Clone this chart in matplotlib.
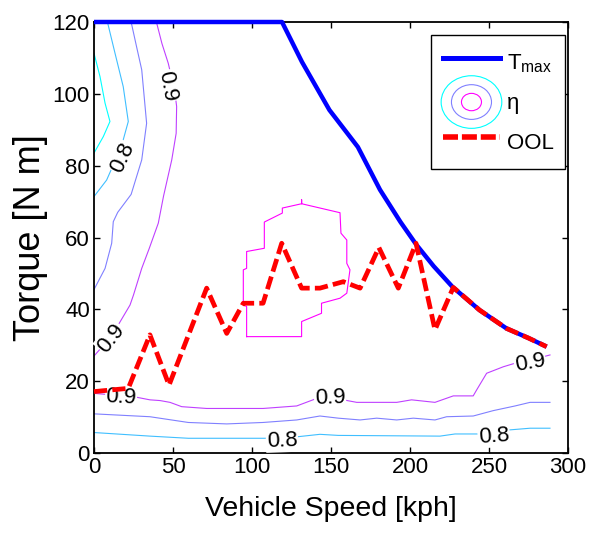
import numpy as np
import matplotlib
matplotlib.use("Agg")
import matplotlib.pyplot as plt
from matplotlib.legend_handler import HandlerBase
from matplotlib.patches import Ellipse
from matplotlib.lines import Line2D

plt.rcParams['font.family'] = ['Liberation Sans', 'DejaVu Sans']
plt.rcParams['mathtext.fontset'] = 'custom'
plt.rcParams['mathtext.rm'] = 'Liberation Sans'
plt.rcParams['mathtext.it'] = 'Liberation Sans'

# --- donnees ---
# couple max
tmax_v = [0, 119, 131.6, 149, 167, 181, 194, 204, 215, 227, 244, 261, 275, 286.5]
tmax_t = [120, 120, 108.9, 95.5, 85.2, 73.3, 64.3, 58, 52, 46.2, 39.8, 34.7, 32, 29.6]

# ligne de fonctionnement optimale (OOL)
ool_v = [0, 21.7, 35.4, 47.5, 71.3, 84, 94.5, 107, 118.8, 131.4, 143, 157.8, 168.4,
         180.3, 192.6, 203.8, 215.8, 227.4, 244, 261, 275, 286.5]
ool_t = [17.1, 18, 32.9, 18.9, 45.9, 33.3, 41.7, 41.7, 58.4, 45.9, 45.9, 47.7, 45.9,
         57.2, 45.9, 58.4, 34.3, 46.1, 39.8, 34.7, 32, 29.6]

# iso-rendement (haut gauche)
c075_v = [0, 3.8, 7, 10.1, 5.9, 0]
c075_t = [111.3, 104.8, 97.4, 92.3, 88.1, 83.5]
c080a_v = [8.5, 13.3, 18.5, 21.7, 18.5, 13, 8, 0]
c080a_t = [120, 111.3, 102, 92.3, 87.2, 81, 76, 71.4]
c085a_v = [23.5, 27, 30.2, 33.3, 30.2, 23.5, 15, 12.2, 11.2, 7, 0]
c085a_t = [120, 113, 106.7, 91.8, 81.6, 72, 67, 64.4, 58.4, 51.4, 45.5]
c090a_v = [39.5, 43, 47, 51, 52.3, 52, 49.2, 44, 40.7, 35, 30.2, 25, 22.8, 15.4, 8, 0]
c090a_t = [120, 114, 108.5, 101, 96.5, 89, 81.6, 71.5, 64, 57, 51.4, 44, 41.2, 35.7, 31, 27]

# iso-rendement (bas)
c090b_v = [0, 24.9, 35.4, 41.8, 48.1, 55.5, 71.3, 107, 128.3, 141, 149.4, 157.8, 166.3,
           191.6, 201, 215.8, 227.4, 240, 242.1, 248.5, 259, 266.5, 284.4, 288.6]
c090b_t = [16.6, 15.7, 14.8, 14.6, 14.1, 12.9, 12.4, 12.4, 13.1, 15.2, 15.3, 14.8, 14.1,
           14.1, 14.8, 14.1, 15.9, 15.9, 17.5, 22.2, 24, 25, 26.8, 27.3]
c085b_v = [0, 35.4, 59.7, 84, 107, 128.3, 143, 154.6, 168.4, 178.9, 191.6, 202.1, 215.8,
           223.2, 240, 252.7, 266.5, 276, 288.6]
c085b_t = [10.9, 10.1, 8.5, 8.1, 8.5, 9.2, 10.3, 9.7, 9.2, 9.7, 9.2, 9.7, 9.2,
           10.1, 10.3, 11.8, 13.1, 14.1, 14.1]
c080b_v = [0, 35.4, 59.7, 108, 128.3, 143, 154.6, 219, 228.5, 243.2, 262.2, 276, 288.6]
c080b_t = [5.7, 4.7, 4.1, 4.1, 4.5, 5.2, 4.9, 4.7, 5.3, 5.3, 6.4, 6.9, 6.9]

# ilot de rendement max
c095_v = [96.6, 131.4, 131.4, 144, 144, 155.7, 160, 162, 160, 160, 156.3, 155.7, 131.4,
          131.4, 131.4, 119.2, 119.2, 107.8, 107.8, 96.6, 96.6, 94.5, 94.5, 96.6, 96.6]
c095_t = [32.4, 32.4, 36.6, 38.9, 41.7, 43.1, 44.5, 51, 52.8, 59.3, 61.2, 66.9, 69.4,
          70.5, 69.4, 68.2, 66.8, 64.3, 57, 56.1, 51.4, 51, 41.2, 40.8, 32.4]

# etiquettes des contours: (texte, v, t, rotation)
lab_txt = ['0.9', '0.8', '0.9', '0.9', '0.9', '0.8', '0.8', '0.9']
lab_v = [46.2, 18.4, 10.8, 17.1, 149.4, 119, 253, 276]
lab_t = [102.2, 82.2, 32, 15.6, 15.3, 3.3, 4.7, 25]
lab_rot = [-80, 65, 52, -3, 2, 2, 4, 10]

col075 = (0, 1, 1)
col080 = (0.25, 0.75, 1)
col085 = (0.5, 0.5, 1)
col090 = (0.75, 0.25, 1)
col095 = (1, 0, 1)


class EtaHandler(HandlerBase):
    def create_artists(self, legend, orig_handle, xdescent, ydescent,
                       width, height, fontsize, trans):
        cx = width / 2 - xdescent
        cy = height / 2 - ydescent
        arts = []
        for s, c in zip([1.0, 0.66, 0.33], [col075, col085, col095]):
            e = Ellipse((cx, cy), width * 1.05 * s, height * 1.6 * s, fill=False,
                        edgecolor=c, lw=0.8, transform=trans)
            arts.append(e)
        return arts


fig = plt.figure(figsize=(5.91, 5.36), dpi=100)
ax = fig.add_axes([94 / 591, 1 - 453 / 536, 474 / 591, 431 / 536])

lw_c = 0.8
ax.plot(c075_v, c075_t, color=col075, lw=lw_c, zorder=2)
ax.plot(c080a_v, c080a_t, color=col080, lw=lw_c, zorder=2)
ax.plot(c085a_v, c085a_t, color=col085, lw=lw_c, zorder=2)
ax.plot(c090a_v, c090a_t, color=col090, lw=lw_c, zorder=2)
ax.plot(c090b_v, c090b_t, color=col090, lw=lw_c, zorder=2)
ax.plot(c085b_v, c085b_t, color=col085, lw=lw_c, zorder=2)
ax.plot(c080b_v, c080b_t, color=col080, lw=lw_c, zorder=2)
ax.plot(c095_v, c095_t, color=col095, lw=lw_c, zorder=2)

for txt, v, t, r in zip(lab_txt, lab_v, lab_t, lab_rot):
    ax.text(v, t, txt, fontsize=16, rotation=r, ha='center', va='center',
            rotation_mode='anchor', zorder=3,
            bbox=dict(facecolor='white', edgecolor='none', pad=0.5))

ax.plot(tmax_v, tmax_t, color=(0, 0, 1), lw=3.2, zorder=4, clip_on=False,
        solid_capstyle='butt')
ax.plot(ool_v, ool_t, color=(1, 0, 0), lw=3.4, zorder=5, dashes=(2.8, 1.1),
        clip_on=False)

ax.set_xlim(0, 300)
ax.set_ylim(0, 120)
ax.set_xticks(np.arange(0, 301, 50))
ax.set_yticks(np.arange(0, 121, 20))
ax.tick_params(direction='in', top=True, right=True, length=4, width=1,
               labelsize=16, pad=3)
for sp in ax.spines.values():
    sp.set_linewidth(1.3)

ax.set_xlabel('Vehicle Speed [kph]', fontsize=20.5, labelpad=13)
ax.set_ylabel('Torque [N m]', fontsize=26, labelpad=3)

h_tmax = Line2D([], [], color=(0, 0, 1), lw=3.6)
h_eta = object()
h_ool = Line2D([], [], color=(1, 0, 0), lw=4, dashes=(2.7, 0.7))
leg = ax.legend([h_tmax, h_eta, h_ool], [r'T$_{\rm max}$', 'η', 'OOL'],
                handler_map={h_eta: EtaHandler()},
                loc='upper right', bbox_to_anchor=(0.9937, 0.970),
                borderaxespad=0, fontsize=16, handlelength=2.6, handleheight=1.9,
                labelspacing=0.3, handletextpad=0.3, borderpad=0.5,
                fancybox=False, framealpha=1, edgecolor='k')
leg.get_frame().set_linewidth(1.0)
leg.set_zorder(10)

fig.savefig('out.png', dpi=100)
